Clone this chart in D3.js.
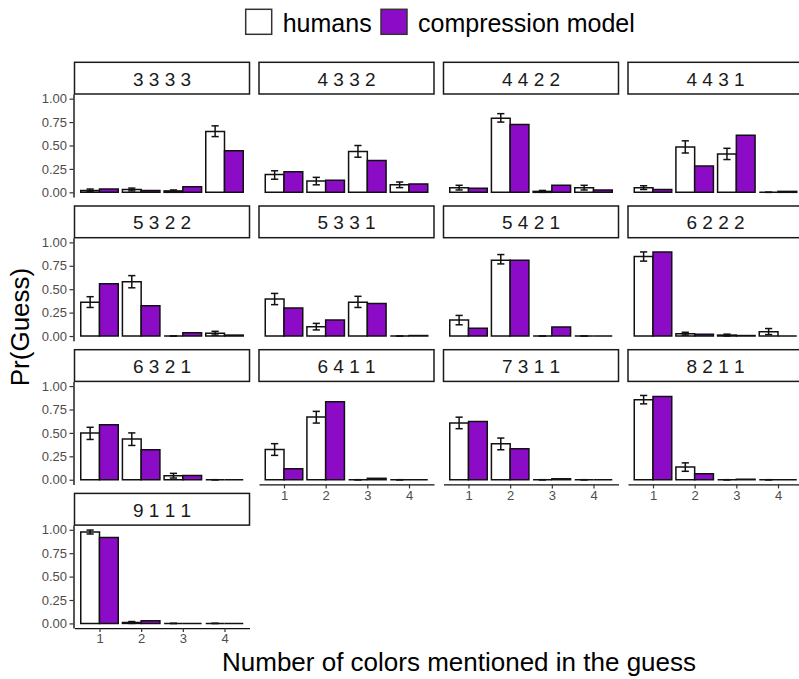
<!DOCTYPE html>
<html>
<head>
<meta charset="utf-8">
<script src="https://cdn.jsdelivr.net/npm/d3@7"></script>
<style>
  body { margin: 0; background: #fff; }
  svg { display: block; font-family: "Liberation Sans", Arial, sans-serif; }
</style>
</head>
<body>
<svg id="chart" width="799" height="679"></svg>
<script>
// facet labels, in panel order
const panels = ["3 3 3 3", "4 3 3 2", "4 4 2 2", "4 4 3 1",
                "5 3 2 2", "5 3 3 1", "5 4 2 1", "6 2 2 2",
                "6 3 2 1", "6 4 1 1", "7 3 1 1", "8 2 1 1",
                "9 1 1 1"];
const categories = ["1", "2", "3", "4"];
const seriesNames = ["humans", "compression model"];
const yTicks = [0, 0.25, 0.5, 0.75, 1];

// human proportions, one row per panel
const humans = [
  [0.02, 0.03, 0.015, 0.65],
  [0.19, 0.12, 0.435, 0.08],
  [0.05, 0.79, 0.01, 0.05],
  [0.05, 0.485, 0.41, 0.0],
  [0.36, 0.58, 0.0, 0.03],
  [0.395, 0.10, 0.36, 0.0],
  [0.17, 0.81, 0.0, 0.0],
  [0.848, 0.025, 0.01, 0.045],
  [0.498, 0.434, 0.043, 0.0],
  [0.324, 0.669, 0.0, 0.0],
  [0.605, 0.385, 0.0, 0.0],
  [0.855, 0.135, 0.0, 0.0],
  [0.975, 0.01, 0.0, 0.0]
];
// error bar ends for humans
const humansLo = [
  [0.01, 0.015, 0.005, 0.595],
  [0.14, 0.08, 0.375, 0.05],
  [0.025, 0.75, 0.0, 0.025],
  [0.03, 0.42, 0.35, 0.0],
  [0.305, 0.515, 0.0, 0.01],
  [0.335, 0.065, 0.305, 0.0],
  [0.12, 0.77, 0.0, 0.0],
  [0.80, 0.01, 0.0, 0.015],
  [0.43, 0.366, 0.018, 0.0],
  [0.26, 0.605, 0.0, 0.0],
  [0.545, 0.32, 0.0, 0.0],
  [0.81, 0.09, 0.0, 0.0],
  [0.955, 0.0, 0.0, 0.0]
];
const humansHi = [
  [0.035, 0.045, 0.025, 0.71],
  [0.23, 0.16, 0.50, 0.11],
  [0.075, 0.84, 0.02, 0.075],
  [0.07, 0.55, 0.47, 0.0],
  [0.42, 0.645, 0.0, 0.05],
  [0.455, 0.135, 0.424, 0.0],
  [0.22, 0.87, 0.0, 0.0],
  [0.898, 0.04, 0.02, 0.08],
  [0.56, 0.50, 0.068, 0.0],
  [0.385, 0.73, 0.0, 0.0],
  [0.668, 0.445, 0.0, 0.0],
  [0.90, 0.18, 0.0, 0.0],
  [0.997, 0.02, 0.0, 0.0]
];
// compression model predictions
const model = [
  [0.035, 0.02, 0.06, 0.443],
  [0.22, 0.13, 0.34, 0.09],
  [0.043, 0.725, 0.075, 0.025],
  [0.03, 0.28, 0.61, 0.01],
  [0.558, 0.324, 0.036, 0.01],
  [0.30, 0.17, 0.348, 0.005],
  [0.083, 0.808, 0.097, 0.0],
  [0.898, 0.02, 0.005, 0.0],
  [0.588, 0.32, 0.045, 0.0],
  [0.117, 0.833, 0.015, 0.0],
  [0.623, 0.33, 0.01, 0.0],
  [0.89, 0.064, 0.005, 0.0],
  [0.918, 0.028, 0.0, 0.0]
];

const cfg = {
  nCol: 4,
  colLeft: 74.5,
  colStep: 184.5,
  panelW: 175,
  rowTop: 94,
  rowStep: 143.7,
  panelH: 103,
  stripH: 31.7,
  purple: "#8c0bc6",
  tickGrey: "#4d4d4d"
};

const svg = d3.select("#chart");

panels.forEach((label, i) => {
  const col = i % cfg.nCol;
  const row = Math.floor(i / cfg.nCol);
  const x0 = cfg.colLeft + col * cfg.colStep;
  const top = cfg.rowTop + row * cfg.rowStep;

  const x = d3.scalePoint().domain(categories).range([x0, x0 + cfg.panelW]).padding(0.6);
  const step = x.step();
  const dodge = d3.scaleBand().domain(seriesNames).range([-0.45 * step, 0.45 * step]);
  const y = d3.scaleLinear().domain([-0.05, 1.05]).range([top + cfg.panelH, top]);

  const g = svg.append("g").attr("class", "panel");

  // strip
  g.append("rect")
    .attr("x", x0).attr("y", top - cfg.stripH)
    .attr("width", cfg.panelW).attr("height", cfg.stripH)
    .attr("fill", "#fff").attr("stroke", "#1a1a1a").attr("stroke-width", 1.5);
  g.append("text")
    .attr("x", x0 + cfg.panelW / 2).attr("y", top - cfg.stripH / 2 + 1)
    .attr("text-anchor", "middle").attr("dominant-baseline", "central")
    .attr("font-size", 19).attr("fill", "#1a1a1a")
    .text(label);

  const rows = categories.map((c, k) => ({
    cat: c, h: humans[i][k], lo: humansLo[i][k], hi: humansHi[i][k], m: model[i][k]
  }));

  // bars (paths so that zero-height bars still show their outline)
  const bars = [];
  rows.forEach(d => {
    bars.push({ cat: d.cat, s: seriesNames[0], v: d.h });
    bars.push({ cat: d.cat, s: seriesNames[1], v: d.m });
  });
  g.selectAll(".bar")
    .data(bars)
    .join("path")
      .attr("class", "bar")
      .attr("d", d => {
        const bx = x(d.cat) + dodge(d.s);
        const bw = dodge.bandwidth();
        return `M${bx},${y(0)}H${bx + bw}V${y(d.v)}H${bx}Z`;
      })
      .attr("fill", d => d.s === seriesNames[0] ? "#fff" : cfg.purple)
      .attr("stroke", "#111")
      .attr("stroke-width", 1.5);

  // error bars on the human bars
  const cap = 3.6;
  const eb = g.selectAll(".err")
    .data(rows)
    .join("g")
      .attr("class", "err")
      .attr("transform", d => `translate(${x(d.cat) + dodge(seriesNames[0]) + dodge.bandwidth() / 2},0)`);
  eb.append("line")
    .attr("y1", d => y(d.lo)).attr("y2", d => y(d.hi))
    .attr("stroke", "#111").attr("stroke-width", 1.5);
  eb.append("line")
    .attr("x1", -cap).attr("x2", cap)
    .attr("y1", d => y(d.lo)).attr("y2", d => y(d.lo))
    .attr("stroke", "#111").attr("stroke-width", 1.5);
  eb.append("line")
    .attr("x1", -cap).attr("x2", cap)
    .attr("y1", d => y(d.hi)).attr("y2", d => y(d.hi))
    .attr("stroke", "#111").attr("stroke-width", 1.5);

  // y axis only on first column
  if (col === 0) {
    const ya = g.append("g")
      .attr("transform", `translate(${x0 - 1},0)`)
      .call(d3.axisLeft(y).tickValues(yTicks).tickFormat(d3.format(".2f")).tickSize(4).tickSizeOuter(0));
    ya.select(".domain").attr("stroke", "#111").attr("stroke-width", 1.4);
    ya.selectAll(".tick line").attr("stroke", "#333").attr("stroke-width", 1.2);
    ya.selectAll(".tick text")
      .attr("font-size", 13).attr("fill", cfg.tickGrey)
      .attr("font-family", "Liberation Sans, Arial, sans-serif")
      .attr("x", -6.5);
  }

  // x axis at the bottom of each column
  const lastInCol = i + cfg.nCol >= panels.length;
  if (lastInCol) {
    const xa = g.append("g")
      .attr("transform", `translate(0,${top + cfg.panelH})`)
      .call(d3.axisBottom(x).tickSize(4).tickSizeOuter(0));
    xa.select(".domain").attr("stroke", "#111").attr("stroke-width", 1.4);
    xa.selectAll(".tick line").attr("stroke", "#333").attr("stroke-width", 1.2);
    xa.selectAll(".tick text")
      .attr("font-size", 13).attr("fill", cfg.tickGrey)
      .attr("font-family", "Liberation Sans, Arial, sans-serif")
      .attr("y", 6);
  }
});

// axis titles
svg.append("text")
  .attr("x", 459).attr("y", 671)
  .attr("text-anchor", "middle")
  .attr("font-size", 26).attr("fill", "#000")
  .text("Number of colors mentioned in the guess");

svg.append("text")
  .attr("transform", "translate(29,327) rotate(-90)")
  .attr("text-anchor", "middle")
  .attr("font-size", 26).attr("fill", "#000")
  .text("Pr(Guess)");

// legend
const legend = svg.append("g").attr("class", "legend");
const legendX = [245.7, 381];
seriesNames.forEach((s, k) => {
  legend.append("rect")
    .attr("x", legendX[k]).attr("y", 9.3)
    .attr("width", 26).attr("height", 25)
    .attr("fill", k === 0 ? "#fff" : cfg.purple)
    .attr("stroke", "#333").attr("stroke-width", 1.5);
  legend.append("text")
    .attr("x", legendX[k] + 37).attr("y", 31.5)
    .attr("font-size", 25).attr("fill", "#000")
    .text(s);
});
</script>
</body>
</html>
